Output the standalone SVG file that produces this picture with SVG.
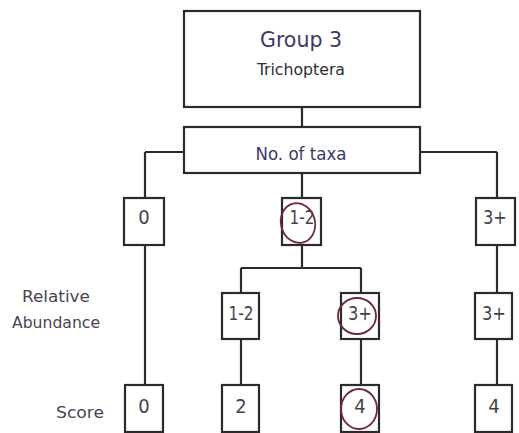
<svg xmlns="http://www.w3.org/2000/svg" width="519" height="433" viewBox="0 0 519 433">
<style>
.box{fill:#fff;stroke:#2e2a2c;stroke-width:2.2}
.ln{fill:none;stroke:#2e2a2c;stroke-width:2.2}
.t{font-family:"DejaVu Sans Condensed","DejaVu Sans",sans-serif;fill:#3a3846;text-anchor:middle}
.n{font-size:20px;fill:#45424c}
.lab{font-family:"DejaVu Sans Condensed","DejaVu Sans",sans-serif;fill:#4a4452;font-size:16px;text-anchor:middle}
.circ{fill:none;stroke:#6e2838;stroke-width:1.8}
</style>
<rect width="519" height="433" fill="#fff"/>
<g id="connectors">
<path class="ln" d="M302 107V127"/>
<path class="ln" d="M145 152H184M420 152H497"/>
<path class="ln" d="M145 152V198M145 245V385"/>
<path class="ln" d="M302 173V198M302 245V268M241 268H361M241 268V293M361 268V293"/>
<path class="ln" d="M241 339V385M361 339V385"/>
<path class="ln" d="M497 152V198M497 245V293M497 339V385"/>
</g>
<g id="group3"><rect class="box" x="184" y="11" width="236" height="96"/>
<text class="t" x="301" y="47" font-size="21" textLength="82" lengthAdjust="spacingAndGlyphs" style="fill:#3b3a66">Group 3</text>
<text class="t" x="301" y="75" font-size="15" textLength="88" lengthAdjust="spacingAndGlyphs" style="fill:#2e2c34">Trichoptera</text></g>
<g id="taxa"><rect class="box" x="184" y="127" width="236" height="46"/>
<text class="t" x="301" y="160" font-size="18" textLength="91" lengthAdjust="spacingAndGlyphs" style="fill:#3b3a66">No. of taxa</text></g>
<g id="t0"><rect class="box" x="124" y="198" width="40" height="47"/><text class="t n" x="144" y="224">0</text></g>
<g id="t12"><rect class="box" x="282" y="198" width="39" height="47"/><text class="t n" x="302" y="224" textLength="25" lengthAdjust="spacingAndGlyphs">1-2</text>
<ellipse class="circ" cx="298" cy="223" rx="17" ry="20" transform="rotate(-15 298 223)"/></g>
<g id="t3"><rect class="box" x="476" y="198" width="39" height="47"/><text class="t n" x="495" y="224" textLength="24" lengthAdjust="spacingAndGlyphs">3+</text></g>
<g id="ra12"><rect class="box" x="222" y="293" width="37" height="46"/><text class="t n" x="241" y="320" textLength="25" lengthAdjust="spacingAndGlyphs">1-2</text></g>
<g id="ra3"><rect class="box" x="341" y="293" width="38" height="46"/><text class="t n" x="360" y="320" textLength="24" lengthAdjust="spacingAndGlyphs">3+</text>
<ellipse class="circ" cx="357" cy="316" rx="19" ry="18"/></g>
<g id="ra3r"><rect class="box" x="475" y="293" width="37" height="46"/><text class="t n" x="494" y="320" textLength="24" lengthAdjust="spacingAndGlyphs">3+</text></g>
<g id="s0"><rect class="box" x="125" y="385" width="38" height="47"/><text class="t n" x="144" y="413">0</text></g>
<g id="s2"><rect class="box" x="222" y="385" width="37" height="47"/><text class="t n" x="241" y="413">2</text></g>
<g id="s4"><rect class="box" x="341" y="385" width="38" height="47"/><text class="t n" x="360" y="413">4</text>
<ellipse class="circ" cx="359" cy="409" rx="18" ry="20"/></g>
<g id="s4r"><rect class="box" x="475" y="385" width="37" height="47"/><text class="t n" x="494" y="413">4</text></g>
<g id="labels">
<text class="lab" x="56" y="302" textLength="68" lengthAdjust="spacingAndGlyphs">Relative</text>
<text class="lab" x="56" y="328" textLength="88" lengthAdjust="spacingAndGlyphs">Abundance</text>
<text class="lab" x="80" y="418" textLength="48" lengthAdjust="spacingAndGlyphs">Score</text>
</g>
</svg>
